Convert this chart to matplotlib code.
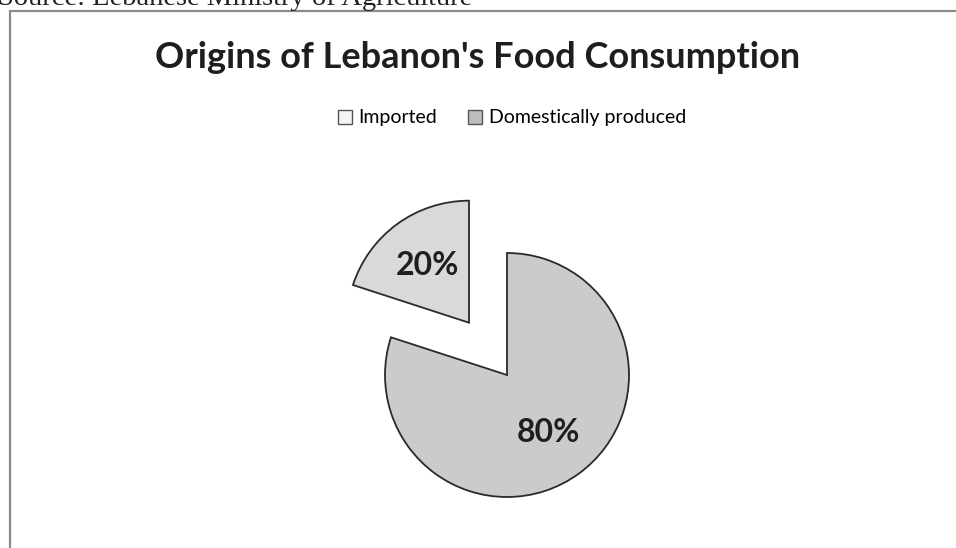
import matplotlib.pyplot as plt
from matplotlib.patches import Patch, Rectangle

# data
labels = ['Imported', 'Domestically produced']
shares = [80, 20]
explode_frac = [0, 0.53]
slice_colors = ['#cbcbcb', '#d9d9d9']
legend_colors = ['#f4f4f4', '#bdbdbd']

W, H = 956, 548
R = 122
fig = plt.figure(figsize=(W / 100, H / 100), dpi=100)
ax = fig.add_axes([0, 0, 1, 1])
ax.axis('off')

#outer frame + cut source line
ax.add_patch(Rectangle((10, -10), W, H - 11 + 10, fill=False, ec='#8a8a8a', lw=1.6))
ax.text(-2, H - 5, 'Source: Lebanese Ministry of Agriculture', fontsize=20.5,
        family='Liberation Serif', va='baseline', ha='left', color='#222222')

# pie explode is in data units here, so scale by radius
wedges, texts, autotexts = ax.pie(
    shares, explode=[e * R for e in explode_frac], colors=slice_colors, startangle=90,
    counterclock=False, center=(507, H - 375), radius=R,
    autopct='%1.0f%%', pctdistance=0.58,
    wedgeprops=dict(edgecolor='#2a2a2a', linewidth=1.3),
    textprops=dict(fontsize=23, fontweight='bold', family='Lato', color='#1e1e1e'),
)
ax.set_xlim(0, W)
ax.set_ylim(0, H)
ax.set_aspect('equal')

fig.text(0.5, 1 - 58 / H, "Origins of Lebanon's Food Consumption", ha='center', va='center',
         fontsize=26, fontweight='bold', family='Lato', color='#1e1e1e')

handles = [Patch(facecolor=c, edgecolor='#555555', lw=1) for c in legend_colors]
fig.legend(handles, labels, loc='center', bbox_to_anchor=(512 / W, 1 - 118 / H), ncol=2,
           frameon=False, handlelength=0.7, handleheight=0.7, handletextpad=0.35,
           columnspacing=1.6, prop=dict(family='Lato', size=14))

fig.savefig('out.png', dpi=100)
